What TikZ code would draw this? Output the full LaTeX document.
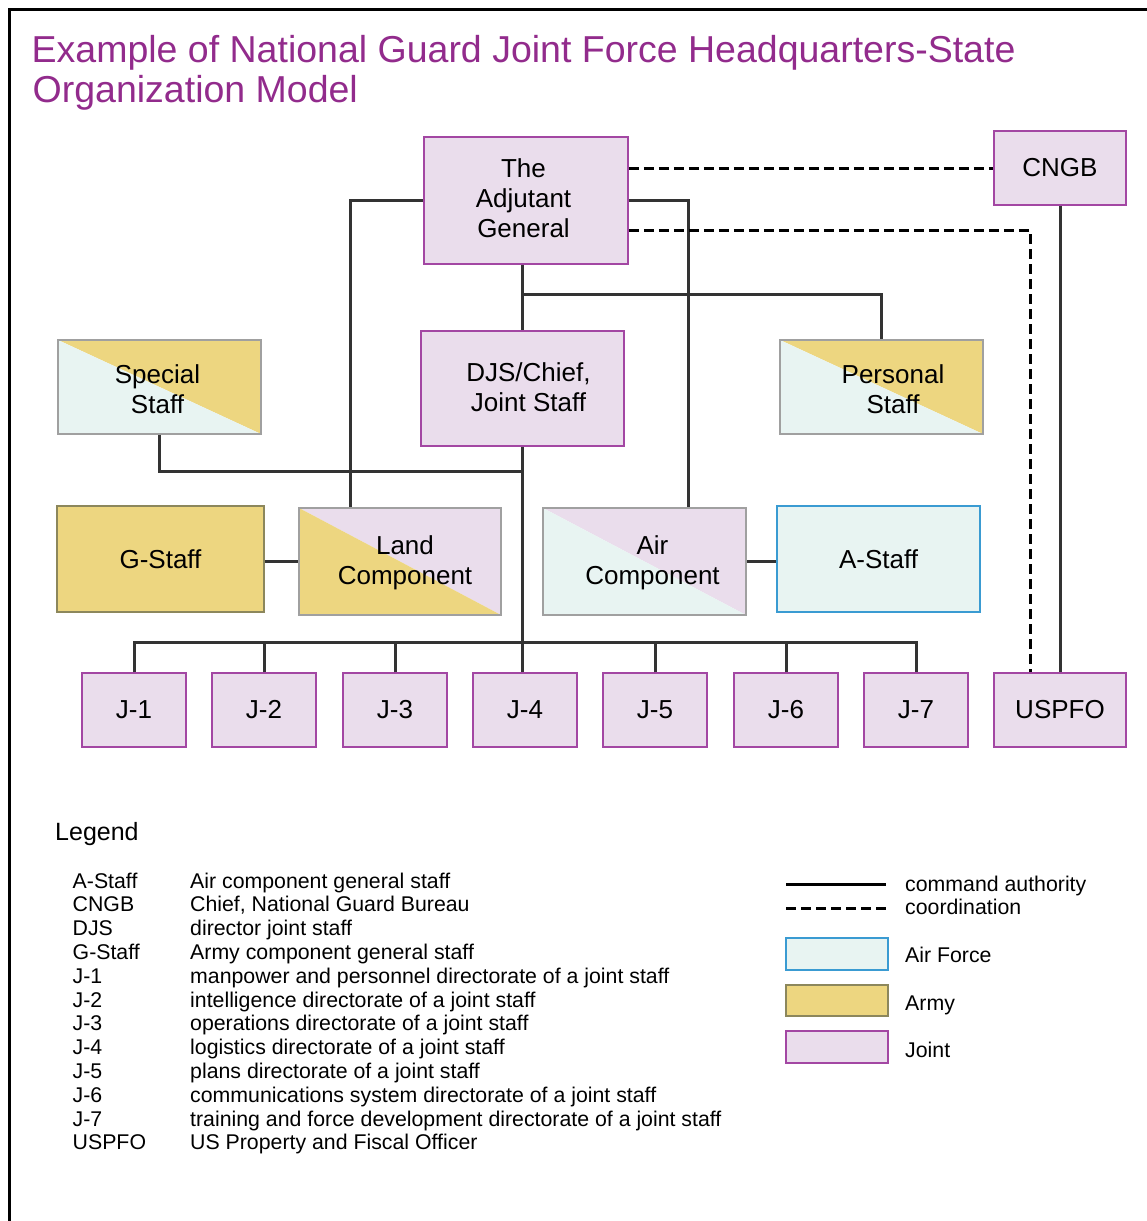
\documentclass[tikz,border=0pt]{standalone}
\usepackage{fontspec}
\setmainfont{Liberation Sans}
\definecolor{jointfill}{HTML}{EADDEC}
\definecolor{jointdraw}{HTML}{A347A3}
\definecolor{armyfill}{HTML}{EDD680}
\definecolor{armydraw}{HTML}{8C875C}
\definecolor{airfill}{HTML}{E8F4F2}
\definecolor{airdraw}{HTML}{3A9BD2}
\definecolor{splitdraw}{HTML}{A0A0A0}
\definecolor{titlecol}{HTML}{922B8C}
\definecolor{linecol}{HTML}{333333}
\tikzset{
  unit/.style={draw, line width=1.5pt, inner sep=0pt, align=center,
    font=\fontsize{26}{30}\selectfont, text=black},
  wh/.style 2 args={minimum width=#1, minimum height=#2},
  joint/.style={unit, fill=jointfill, draw=jointdraw},
  army/.style={unit, fill=armyfill, draw=armydraw},
  air/.style={unit, fill=airfill, draw=airdraw},
  split/.style 2 args={unit, draw=splitdraw, path picture={
    \fill[#1] (path picture bounding box.north west) -- (path picture bounding box.north east)
      -- (path picture bounding box.south east) -- cycle;
    \fill[#2] (path picture bounding box.north west) -- (path picture bounding box.south west)
      -- (path picture bounding box.south east) -- cycle;}},
  boxtext/.style={inner sep=0pt, align=center, font=\fontsize{26}{30}\selectfont},
  cmd/.style={draw=linecol, line width=3pt},
  coordline/.style={draw=black, line width=3pt, dash pattern=on 10pt off 5pt},
  legtext/.style={font=\fontsize{21.3}{24}\selectfont, inner sep=0pt, anchor=base west},
  titletext/.style={font=\fontsize{37.5}{40}\selectfont, text=titlecol, inner sep=0pt, anchor=base west},
}
\begin{document}
\begin{tikzpicture}[x=1pt,y=-1pt]
\useasboundingbox (0,0) rectangle (1147,1221);
% frame
\draw[line width=3pt] (9.5,1221) -- (9.5,9.5) -- (1147,9.5);
% title
\node[titletext] (title1) at (31.5,62) {Example of National Guard Joint Force Headquarters-State};
\node[titletext] (title2) at (32.5,102) {Organization Model};

% boxes
\node[joint, wh={204}{127}] (tag) at (526,200.5) {};
\node[boxtext] (tag-t) at (523.5,198.5) {The\\Adjutant\\General};
\node[joint, wh={132}{74}] (cngb) at (1060,168) {CNGB};
\node[joint, wh={203}{115}] (djs) at (522.5,388.5) {};
\node[boxtext] (djs-t) at (528.5,387) {DJS/Chief,\\Joint Staff};
\node[split={armyfill}{airfill}, wh={203}{94}] (spec) at (159.5,387) {};
\node[boxtext] (spec-t) at (157.5,389) {Special\\Staff};
\node[split={armyfill}{airfill}, wh={203}{94}] (pers) at (881.5,387) {};
\node[boxtext] (pers-t) at (893,389) {Personal\\Staff};
\node[army, wh={207}{106}] (gstaff) at (160.5,559) {G-Staff};
\node[split={jointfill}{armyfill}, wh={202}{107}] (land) at (400,561.5) {};
\node[boxtext] (land-t) at (405,562.5) {Land\\Component};
\node[split={jointfill}{airfill}, wh={203}{107}] (air) at (644.5,561.5) {};
\node[boxtext] (air-t) at (652.5,562.5) {Air\\Component};
\node[air, wh={203}{106}] (astaff) at (878.5,559) {A-Staff};

\foreach \n/\x in {1/134,2/264,3/395,4/525,5/655,6/786,7/916}
  \node[joint, wh={104}{74}] (j\n) at (\x,710) {J-\n};
\node[joint, wh={132}{74}] (uspfo) at (1060,710) {USPFO};

% command authority connectors
\draw[cmd] (tag.west) -| ([xshift=-50pt]land.north);
\draw[cmd] (tag.east) -| ([xshift=43.5pt]air.north);
\draw[cmd] (djs.north |- tag.south) -- (djs.north);
\coordinate (pbranch) at (522.5,294);
\draw[cmd] (pbranch) -| (pers.north);
\draw[cmd] (djs.south) -- (djs.south |- j4.north);
\coordinate (sbranch) at (522.5,471);
\draw[cmd] (spec.south) |- (sbranch);
\draw[cmd] (gstaff.east |- land.west) -- (land.west);
\draw[cmd] (air.east) -- (astaff.west |- air.east);
\coordinate (jbus) at (0,642);
\draw[cmd] (j1.north) -- (j1.north |- jbus) -- (j7.north |- jbus) -- (j7.north);
\foreach \n in {2,3,5,6} \draw[cmd] (j\n.north) -- (j\n.north |- jbus);
\draw[cmd] (cngb.south) -- (uspfo.north);

% coordination connectors
\draw[coordline] (tag.east |- cngb.west) -- (cngb.west);
\draw[coordline] ([yshift=-30pt]tag.east) -| ([xshift=-30pt]uspfo.north);

% legend
\node[legtext, font=\fontsize{25}{28}\selectfont] (leghead) at (55,840) {Legend};
\foreach \a/\d [count=\i] in {
  A-Staff/{Air component general staff},
  CNGB/{Chief, National Guard Bureau},
  DJS/{director joint staff},
  G-Staff/{Army component general staff},
  J-1/{manpower and personnel directorate of a joint staff},
  J-2/{intelligence directorate of a joint staff},
  J-3/{operations directorate of a joint staff},
  J-4/{logistics directorate of a joint staff},
  J-5/{plans directorate of a joint staff},
  J-6/{communications system directorate of a joint staff},
  J-7/{training and force development directorate of a joint staff},
  USPFO/{US Property and Fiscal Officer}}{
  \node[legtext] (abbr\i) at (72.5,{888+(\i-1)*23.8}) {\a};
  \node[legtext] (def\i) at (190,{888+(\i-1)*23.8}) {\d};
}
\coordinate (lc1) at (786,884);
\coordinate (lc2) at (886,884);
\draw[draw=black, line width=3pt] (lc1) -- (lc2);
\coordinate (ld1) at (786,908);
\coordinate (ld2) at (886,908);
\draw[coordline] (ld1) -- (ld2);
\node[legtext] (lcmd) at (905,891) {command authority};
\node[legtext] (lcoord) at (905,914) {coordination};
\node[air, wh={102}{32}] (legair) at (837,954) {};
\node[army, wh={102}{31}] (legarmy) at (837,1000.5) {};
\node[joint, wh={102}{32}] (legjoint) at (837,1047) {};
\node[legtext] (lair) at (905,962) {Air Force};
\node[legtext] (larmy) at (905,1010) {Army};
\node[legtext] (ljoint) at (905,1057) {Joint};
\end{tikzpicture}
\end{document}
